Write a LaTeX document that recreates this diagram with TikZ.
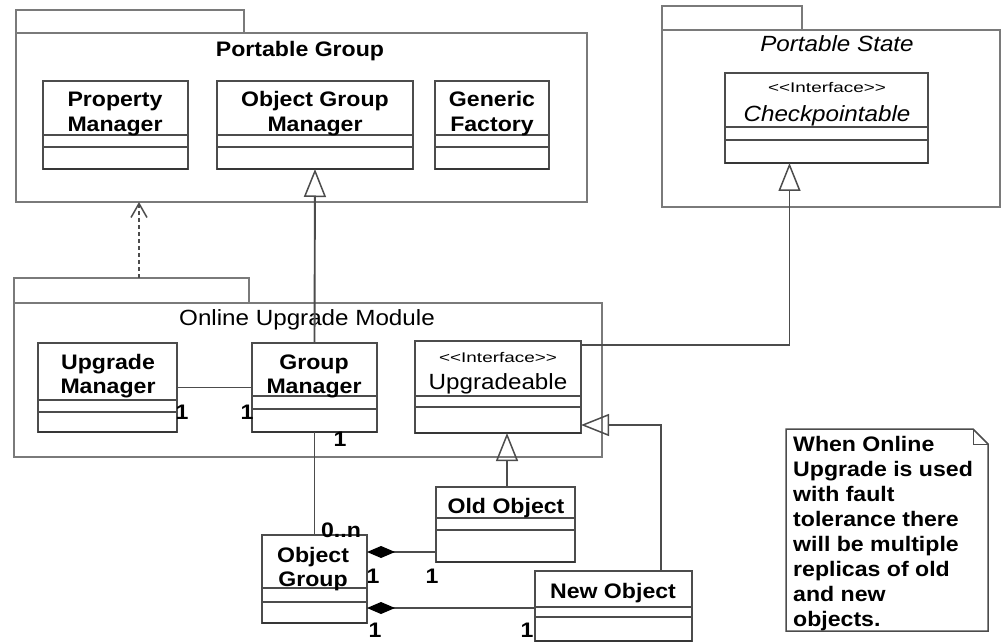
\documentclass[tikz,border=0pt]{standalone}
\usepackage{fontspec}
\setmainfont{Liberation Sans}[FakeStretch=1.1]
\newfontfamily\stereofont{Liberation Sans}[FakeStretch=1.35]
\usetikzlibrary{arrows.meta}
\definecolor{pkgcol}{gray}{0.48}
\definecolor{boxcol}{gray}{0.30}
\newcommand\umlcls[7]{%
  \node[clsbox, minimum width={#4-#2}, minimum height={#5-#3}] (#1) at (#2,#3) {};
  \draw[sepline] (#2,#6) -- (#4,#6);
  \draw[sepline] (#2,#7) -- (#4,#7);
  \draw[botline] (#2,#5) -- (#4,#5);
}
\begin{document}
\begin{tikzpicture}[x=1pt,y=-1pt,
  pkgpart/.style={draw=pkgcol, line width=2.2pt, inner sep=0pt, outer sep=0pt, anchor=north west},
  clsbox/.style={draw=boxcol, line width=1.5pt, fill=white, inner sep=0pt, outer sep=0pt, anchor=north west},
  sepline/.style={draw=boxcol, line width=1.5pt},
  botline/.style={draw=boxcol!70!black, line width=2.4pt},
  cname/.style={font=\fontsize{21}{25}\selectfont\bfseries, anchor=base, inner sep=0pt},
  ptitle/.style={font=\fontsize{22}{26}\selectfont, anchor=base, inner sep=0pt},
  stereo/.style={font=\fontsize{14}{16}\stereofont, anchor=base, inner sep=0pt},
  mult/.style={font=\fontsize{21}{25}\selectfont\bfseries, inner sep=0pt},
  assoc/.style={draw=boxcol, line width=1.9pt},
  gen/.style={draw=boxcol, line width=1.9pt, -{Triangle[open, length=28pt, width=22pt, line width=1.5pt]}},
  comp/.style={draw=boxcol, line width=1.6pt, -{Diamond[length=28pt, width=12pt, fill=black, color=black]}},
  dep/.style={draw=boxcol, line width=1.7pt, dash pattern=on 4pt off 3pt, -{Straight Barb[length=14pt, width=16pt, line width=1.5pt]}},
]
\useasboundingbox[fill=white] (0,0) rectangle (1002,644);

% ---------- packages ----------
\node[pkgpart, minimum width=228pt, minimum height=23pt] (pgtab) at (16,10) {};
\node[pkgpart, minimum width=571pt, minimum height=169pt] (pg) at (16,33) {};
\node[ptitle, font=\fontsize{21}{25}\selectfont\bfseries] (pgt) at (300,57) {Portable Group};

\node[pkgpart, minimum width=140pt, minimum height=24pt] (pstab) at (662,6) {};
\node[pkgpart, minimum width=338pt, minimum height=177pt] (ps) at (662,30) {};
\node[ptitle, font=\fontsize{22}{26}\selectfont\itshape] (pst) at (837,52) {Portable State};

\node[pkgpart, minimum width=235pt, minimum height=25pt] (oumtab) at (14,278) {};
\node[pkgpart, minimum width=588pt, minimum height=154pt] (oum) at (14,303) {};
\node[ptitle] (oumt) at (307,326) {Online Upgrade Module};

% ---------- classes ----------
\umlcls{pm}{43}{81}{188}{169}{135}{147}
\node[cname] (pmn1) at (115,107) {Property};
\node[cname] (pmn2) at (115,132) {Manager};

\umlcls{ogm}{217}{81}{413}{169}{135}{147}
\node[cname] (ogmn1) at (315,107) {Object Group};
\node[cname] (ogmn2) at (315,132) {Manager};

\umlcls{gf}{435}{81}{549}{169}{135}{147}
\node[cname] (gfn1) at (492,107) {Generic};
\node[cname] (gfn2) at (492,132) {Factory};

\umlcls{cp}{725}{73}{928}{163}{127}{140}
\node[stereo] (cps) at (827,93) {<<Interface>>};
\node[cname, font=\fontsize{22}{26}\selectfont\itshape] (cpn) at (827,122) {Checkpointable};

\umlcls{um}{38}{343}{177}{432}{400}{412}
\node[cname] (umn1) at (108,370) {Upgrade};
\node[cname] (umn2) at (108,394) {Manager};

\umlcls{gm}{252}{343}{377}{432}{396}{409}
\node[cname] (gmn1) at (314,370) {Group};
\node[cname] (gmn2) at (314,394) {Manager};

\umlcls{up}{415}{341}{581}{433}{396}{407}
\node[stereo] (ups) at (498,363) {<<Interface>>};
\node[cname, font=\fontsize{22}{26}\selectfont] (upn) at (498,390) {Upgradeable};

\umlcls{oo}{436}{487}{575}{562}{518}{530}
\node[cname] (oon) at (506,513) {Old Object};

\umlcls{og}{262}{535}{367}{623}{588}{602}
\node[cname] (ogn1) at (313,562) {Object};
\node[cname] (ogn2) at (313,586) {Group};

\umlcls{no}{535}{571}{692}{641}{607}{617}
\node[cname] (non) at (613,598) {New Object};

% ---------- connectors ----------
\draw[dep] ([xshift=7.5pt]oumtab.north) -- ([xshift=7.5pt]oumtab.north |- pg.south);
\draw[gen] (gm.north) -- (ogm.south);
\draw[assoc] (gm.south) -- (og.north);
\draw[assoc] (um.east) -- (gm.west);
\draw[gen] ([yshift=-4pt]up.north east) -| ([xshift=-37pt]cp.south);
\draw[gen] ([xshift=1.5pt]oo.north) -- ([xshift=1.5pt]oo.north |- up.south);
\draw[gen] ([xshift=47.5pt]no.north) |- ([yshift=-38pt]up.east);
\draw[comp] ([yshift=-27.5pt]oo.west) -- ([yshift=-27.5pt]oo.west -| og.east);
\draw[comp] ([yshift=-2pt]no.west) -- ([yshift=-2pt]no.west -| og.east);

% ---------- multiplicities ----------
\node[mult] (m1) at (182,412) {1};
\node[mult] (m2) at (247,412) {1};
\node[mult] (m3) at (340,439) {1};
\node[mult] (m4) at (341,530) {0..n};
\node[mult] (m5) at (373,576) {1};
\node[mult] (m6) at (432,576) {1};
\node[mult] (m7) at (375,630) {1};
\node[mult] (m8) at (527,630) {1};

% ---------- note ----------
\draw[draw=boxcol, line width=1.5pt, fill=white] (786,429) -- (973,429) -- (988,444) -- (988,631) -- (786,631) -- cycle;
\draw[draw=boxcol, line width=0.9pt] (973,429) -- (973,444) -- (988,444);
\node[anchor=north west, inner sep=0pt, align=left, font=\fontsize{21}{25}\selectfont\bfseries] (note) at (793,436.5)
  {When Online\\Upgrade is used\\with fault\\tolerance there\\will be multiple\\replicas of old\\and new\\objects.};
\end{tikzpicture}
\end{document}
